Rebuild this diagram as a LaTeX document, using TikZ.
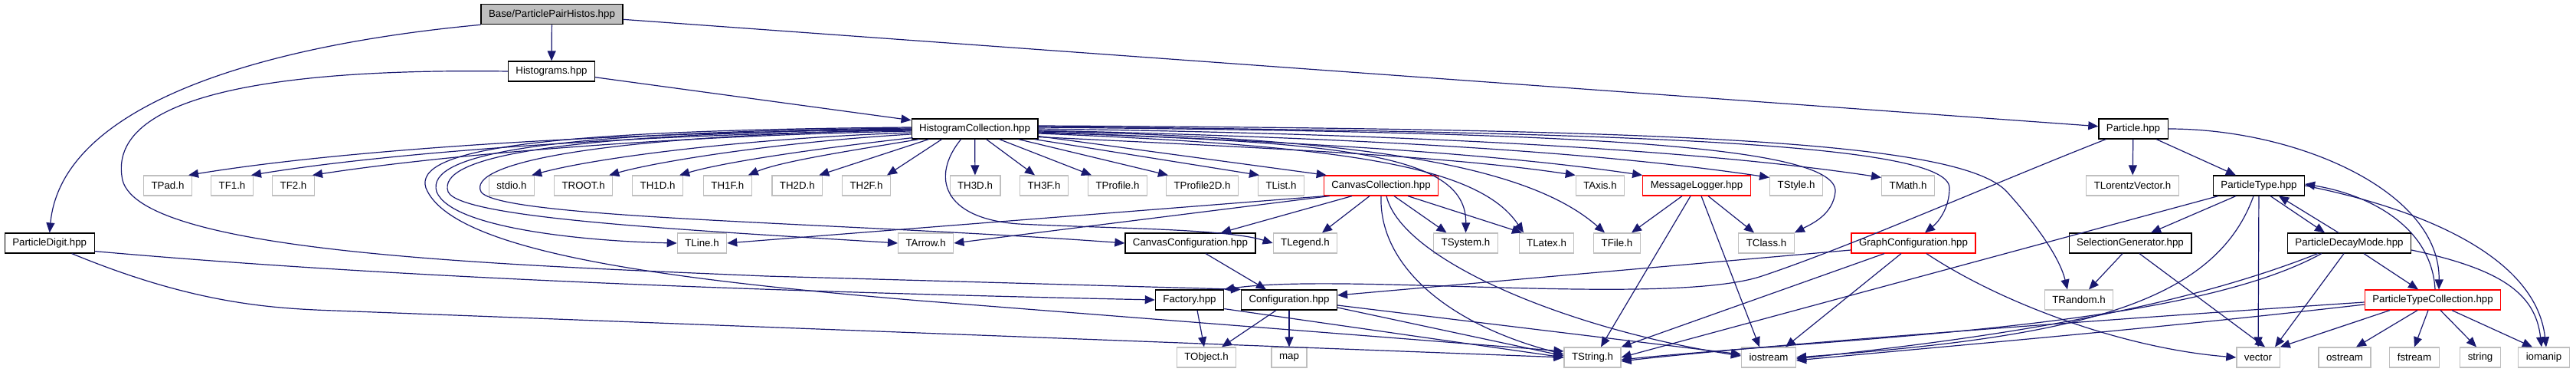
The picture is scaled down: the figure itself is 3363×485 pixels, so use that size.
\documentclass[tikz,border=0pt]{standalone}
\usepackage{fontspec}
\setmainfont{Liberation Sans}
\usetikzlibrary{arrows.meta,calc}
\definecolor{edgec}{HTML}{191970}
\definecolor{grayb}{HTML}{BFBFBF}
\begin{document}
\begin{tikzpicture}[x=0.5pt,y=-0.5pt,
  box/.style={font=\fontsize{6.65}{8}\selectfont, inner xsep=5pt, inner ysep=0pt,
    minimum height=13pt, anchor=center, line width=0.6pt},
  doc/.style={box, draw=black},
  ext/.style={box, draw=grayb},
  trunc/.style={box, draw=red},
  root/.style={box, draw=black, fill=grayb},
  dep/.style={draw=edgec, line width=0.6pt, -{Triangle[length=6.5pt,width=5.5pt]}},
]
\useasboundingbox (0,0) rectangle (3363,485);
% row 1-3
\node[root] (base) at (720.5,18.7) {Base/ParticlePairHistos.hpp};
\node[doc] (hist) at (720,93) {Histograms.hpp};
\node[doc] (hc) at (1272.6,168) {HistogramCollection.hpp};
\node[doc] (particle) at (2785,168) {Particle.hpp};
% row 4
\node[ext] (tpad) at (219,242) {TPad.h};
\node[ext] (tf1) at (303,242) {TF1.h};
\node[ext] (tf2) at (383,242) {TF2.h};
\node[ext] (stdio) at (668,242) {stdio.h};
\node[ext] (troot) at (761.6,242) {TROOT.h};
\node[ext] (th1d) at (858.6,242) {TH1D.h};
\node[ext] (th1f) at (949.8,242) {TH1F.h};
\node[ext] (th2d) at (1040.8,242) {TH2D.h};
\node[ext] (th2f) at (1131,242) {TH2F.h};
\node[ext] (th3d) at (1273,242) {TH3D.h};
\node[ext] (th3f) at (1363,242) {TH3F.h};
\node[ext] (tprofile) at (1459,242) {TProfile.h};
\node[ext] (tprofiled) at (1569.5,242) {TProfile2D.h};
\node[ext] (tlist) at (1672.5,242) {TList.h};
\node[trunc] (cc) at (1803,242) {CanvasCollection.hpp};
\node[ext] (taxis) at (2089,242) {TAxis.h};
\node[trunc] (ml) at (2215,242) {MessageLogger.hpp};
\node[ext] (tstyle) at (2345,242) {TStyle.h};
\node[ext] (tmath) at (2491,242) {TMath.h};
\node[ext] (tlorentz) at (2784,242) {TLorentzVector.h};
\node[doc] (pt) at (2949,242) {ParticleType.hpp};
% row 5
\node[doc] (pdigit) at (64.7,317) {ParticleDigit.hpp};
\node[ext] (tline) at (916.5,317) {TLine.h};
\node[ext] (tarrow) at (1208.7,317) {TArrow.h};
\node[doc] (canvasconf) at (1554,317) {CanvasConfiguration.hpp};
\node[ext] (tlegend) at (1704,317) {TLegend.h};
\node[ext] (tsystem) at (1913.5,317) {TSystem.h};
\node[ext] (tlatex) at (2019,317) {TLatex.h};
\node[ext] (tfile) at (2111,317) {TFile.h};
\node[ext] (tclass) at (2306,317) {TClass.h};
\node[trunc] (gc) at (2498,317) {GraphConfiguration.hpp};
\node[doc] (selgen) at (2781,317) {SelectionGenerator.hpp};
\node[doc] (pdecay) at (3067,317) {ParticleDecayMode.hpp};
% row 6
\node[doc] (factory) at (1553,391) {Factory.hpp};
\node[doc] (config) at (1683,391) {Configuration.hpp};
\node[ext] (trandom) at (2714,391) {TRandom.h};
\node[trunc] (ptc) at (3176,391) {ParticleTypeCollection.hpp};
% row 7
\node[ext] (tobject) at (1575,466) {TObject.h};
\node[ext] (map) at (1683,466) {map};
\node[ext] (tstring) at (2079,466) {TString.h};
\node[ext] (iostream) at (2309,466) {iostream};
\node[ext] (vector) at (2948,466) {vector};
\node[ext] (ostream) at (3061,466) {ostream};
\node[ext] (fstream) at (3152,466) {fstream};
\node[ext] (string) at (3238,466) {string};
\node[ext] (iomanip) at (3321,466) {iomanip};

% ---- root
\draw[dep] (base) -- (hist);
\draw[dep] (base.south west) .. controls (330,60) and (80,140) .. (pdigit.north);
\draw[dep] (base) -- (particle);
% ---- Histograms
\draw[dep] (hist) -- (hc);
\draw[dep] (hist.west) .. controls (300,88) and (140,140) .. (160,235)
  .. controls (185,330) and (650,345) .. (1000,360) -- (config.north west);
% ---- ParticleDigit
\draw[dep] ($(pdigit.south east)+(0,-3)$) .. controls (400,352) and (800,376) .. (factory.west);
\draw[dep] ($(pdigit.south east)+(-30,0)$) .. controls (250,395) and (350,402) .. (436,405) -- (tstring.west);
% ---- Particle
\draw[dep] ($(particle.south west)+(10,0)$) .. controls (2600,240) and (2420,320) .. (2300,360)
  .. controls (2180,400) and (1750,355) .. (factory.north east);
\draw[dep] (particle) -- (tlorentz);
\draw[dep] (particle) -- (pt);
\draw[dep] (particle.east) .. controls (3000,168) and (3186,250) .. ($(ptc.north)+(8,0)$);
% ---- HistogramCollection left fan
\draw[dep] ($(hc.west)+(0,1)$) .. controls (800,172) and (450,195) .. ($(tpad.north east)+(-5,0)$);
\draw[dep] ($(hc.west)+(0,2)$) .. controls (820,175) and (500,200) .. ($(tf1.north east)+(-3,0)$);
\draw[dep] ($(hc.west)+(0,3)$) .. controls (840,178) and (560,205) .. ($(tf2.north east)+(-3,0)$);
\draw[dep] ($(hc.west)+(0,5)$) .. controls (980,180) and (780,205) .. ($(stdio.north east)+(-4,0)$);
\draw[dep] ($(hc.west)+(0,7)$) .. controls (1020,185) and (860,210) .. ($(troot.north east)+(-5,0)$);
\draw[dep] ($(hc.south west)+(2,-2)$) .. controls (1080,192) and (950,210) .. ($(th1d.north east)+(-5,0)$);
\draw[dep] ($(hc.south west)+(10,0)$) .. controls (1120,195) and (1020,210) .. ($(th1f.north east)+(-5,0)$);
\draw[dep] ($(hc.south west)+(23,0)$) -- ($(th2d.north east)+(-5,0)$);
\draw[dep] ($(hc.south west)+(40,0)$) -- ($(th2f.north east)+(-5,0)$);
% swoops to the left and below
\draw[dep] ($(hc.west)+(0,-2)$) .. controls (700,170) and (540,195) .. (556,245)
  .. controls (590,330) and (880,365) .. (1200,392) -- ($(tstring.west)+(0,-8)$);
\draw[dep] ($(hc.west)+(0,-1)$) .. controls (710,172) and (555,200) .. (570,250)
  .. controls (590,300) and (780,315) .. (tline.west);
\draw[dep] (hc.west) .. controls (720,174) and (570,205) .. (585,250)
  .. controls (600,285) and (900,300) .. (tarrow.west);
\draw[dep] ($(hc.west)+(0,1)$) .. controls (760,178) and (610,215) .. (628,250)
  .. controls (650,285) and (1100,290) .. (canvasconf.west);
\draw[dep] ($(hc.south)+(-18,0)$) .. controls (1215,230) and (1230,285) .. (1330,292)
  .. controls (1450,298) and (1600,298) .. (tlegend.west);
% down and right
\draw[dep] (hc) -- (th3d);
\draw[dep] ($(hc.south)+(15,0)$) -- ($(th3f.north)+(-12,0)$);
\draw[dep] ($(hc.south)+(32,0)$) -- ($(tprofile.north west)+(5,0)$);
\draw[dep] ($(hc.south)+(57,0)$) -- ($(tprofiled.north west)+(3,0)$);
\draw[dep] ($(hc.south east)+(-5,0)$) -- ($(tlist.north west)+(2,0)$);
\draw[dep] ($(hc.south east)+(0,-4)$) -- ($(cc.north west)+(4,0)$);
\draw[dep] ($(hc.south east)+(0,-3)$) .. controls (1700,195) and (1900,205) .. (taxis.north west);
\draw[dep] ($(hc.east)+(0,4)$) .. controls (1700,185) and (1950,200) .. (ml.north west);
\draw[dep] ($(hc.east)+(0,2)$) .. controls (1800,180) and (2100,200) .. ($(tstyle.north west)+(0,3)$);
\draw[dep] (hc.east) .. controls (1900,175) and (2250,200) .. ($(tmath.north west)+(0,3)$);
\draw[dep] ($(hc.east)+(0,5)$) .. controls (1750,185) and (1915,200) .. (tsystem.north);
\draw[dep] ($(hc.east)+(0,6)$) .. controls (1750,190) and (1930,215) .. ($(tlatex.north)+(-30,0)$);
\draw[dep] ($(hc.east)+(0,3)$) .. controls (1800,180) and (2000,220) .. ($(tfile.north)+(-16,0)$);
\draw[dep] ($(hc.east)+(0,-2)$) .. controls (2000,172) and (2400,185) .. (2396,250)
  .. controls (2393,280) and (2365,292) .. (tclass.north east);
\draw[dep] ($(hc.east)+(0,-3)$) .. controls (2100,172) and (2545,185) .. (2545,245)
  .. controls (2545,272) and (2530,290) .. ($(gc.north)+(15,0)$);
\draw[dep] ($(hc.east)+(0,-4)$) .. controls (2200,168) and (2560,185) .. (2620,250)
  .. controls (2665,300) and (2690,340) .. ($(trandom.north)+(-15,0)$);
% ---- CanvasCollection
\draw[dep] ($(cc.south west)+(2,0)$) -- (tline.east);
\draw[dep] ($(cc.south west)+(8,0)$) -- (tarrow.east);
\draw[dep] ($(cc.south)+(-38,0)$) -- ($(canvasconf.north)+(40,0)$);
\draw[dep] ($(cc.south)+(-15,0)$) -- ($(tlegend.north)+(22,0)$);
\draw[dep] ($(cc.south)+(17,0)$) -- ($(tsystem.north)+(-25,0)$);
\draw[dep] ($(cc.south)+(35,0)$) -- ($(tlatex.north)+(-32,0)$);
\draw[dep] (cc.south) .. controls (1800,340) and (1880,420) .. ($(tstring.west)+(0,-4)$);
\draw[dep] ($(cc.south)+(7,0)$) .. controls (1830,340) and (2050,430) .. ($(iostream.west)+(0,-2)$);
% ---- MessageLogger
\draw[dep] ($(ml.south)+(-19,0)$) -- ($(tfile.north)+(19,0)$);
\draw[dep] ($(ml.south)+(-8,0)$) -- ($(tstring.north)+(11,0)$);
\draw[dep] ($(ml.south)+(6,0)$) -- ($(iostream.north)+(-12,0)$);
\draw[dep] ($(ml.south)+(15,0)$) -- ($(tclass.north)+(-16,0)$);
% ---- CanvasConfiguration, Configuration, Factory
\draw[dep] ($(canvasconf.south)+(20,0)$) -- ($(config.north)+(-30,0)$);
\draw[dep] ($(config.south)+(-17,0)$) -- ($(tobject.north)+(20,0)$);
\draw[dep] (config) -- (map);
\draw[dep] ($(config.east)+(0,10)$) -- ($(tstring.west)+(0,-2)$);
\draw[dep] ($(config.east)+(0,7)$) -- ($(iostream.west)+(0,-4)$);
\draw[dep] ($(factory.south)+(10,0)$) -- ($(tobject.north)+(-3,0)$);
\draw[dep] ($(factory.south east)+(0,-2)$) -- (tstring.west);
% ---- GraphConfiguration
\draw[dep] ($(gc.west)+(0,9)$) -- ($(config.east)+(0,-6)$);
\draw[dep] ($(gc.south)+(-38,0)$) -- (tstring.north east);
\draw[dep] ($(gc.south)+(-16,0)$) -- ($(iostream.north)+(22,0)$);
\draw[dep] ($(gc.south)+(17,0)$) .. controls (2620,400) and (2780,455) .. (vector.west);
% ---- ParticleType
\draw[dep] ($(pt.south west)+(7,0)$) -- (tstring.east);
\draw[dep] ($(pt.south)+(-7,0)$) .. controls (2890,400) and (2700,440) .. (iostream.east);
\draw[dep] (pt) -- (vector);
\draw[dep] ($(pt.south)+(-30,0)$) -- ($(selgen.north)+(27,0)$);
\draw[dep] ($(pt.south)+(15,0)$) -- ($(pdecay.north)+(-32,0)$);
\draw[dep] (pt.east) .. controls (3150,270) and (3310,330) .. ($(iomanip.north)+(3,0)$);
% ---- ParticleDecayMode
\draw[dep] ($(pdecay.north)+(-14,0)$) -- ($(pt.south)+(26,0)$);
\draw[dep] ($(pdecay.south west)+(40,0)$) .. controls (2800,420) and (2500,450) .. ($(iostream.east)+(0,2)$);
\draw[dep] ($(pdecay.south west)+(45,0)$) .. controls (2850,430) and (2400,440) .. ($(tstring.east)+(0,3)$);
\draw[dep] ($(pdecay.south)+(-7,0)$) -- ($(vector.north)+(22,0)$);
\draw[dep] ($(pdecay.south)+(19,0)$) -- ($(ptc.north)+(-19,0)$);
\draw[dep] ($(pdecay.east)+(0,9)$) .. controls (3260,350) and (3310,380) .. ($(iomanip.north)+(-3,0)$);
% ---- ParticleTypeCollection
\draw[dep] ($(ptc.north)+(3,0)$) .. controls (3175,300) and (3100,255) .. ($(pt.east)+(0,-2)$);
\draw[dep] ($(ptc.west)+(0,3)$) .. controls (2700,420) and (2300,450) .. ($(tstring.east)+(0,5)$);
\draw[dep] ($(ptc.west)+(0,6)$) .. controls (2800,430) and (2500,455) .. ($(iostream.east)+(0,4)$);
\draw[dep] ($(ptc.south)+(-56,0)$) -- (vector.north east);
\draw[dep] ($(ptc.south)+(-20,0)$) -- ($(ostream.north)+(15,0)$);
\draw[dep] ($(ptc.south)+(-6,0)$) -- (fstream.north);
\draw[dep] ($(ptc.south)+(10,0)$) -- ($(string.north)+(-5,0)$);
\draw[dep] ($(ptc.south)+(25,0)$) -- ($(iomanip.north)+(-15,0)$);
% ---- SelectionGenerator
\draw[dep] ($(selgen.south)+(-10,0)$) -- ($(trandom.north)+(13,0)$);
\draw[dep] ($(selgen.south)+(12,0)$) -- ($(vector.north)+(9,0)$);
\end{tikzpicture}
\end{document}
